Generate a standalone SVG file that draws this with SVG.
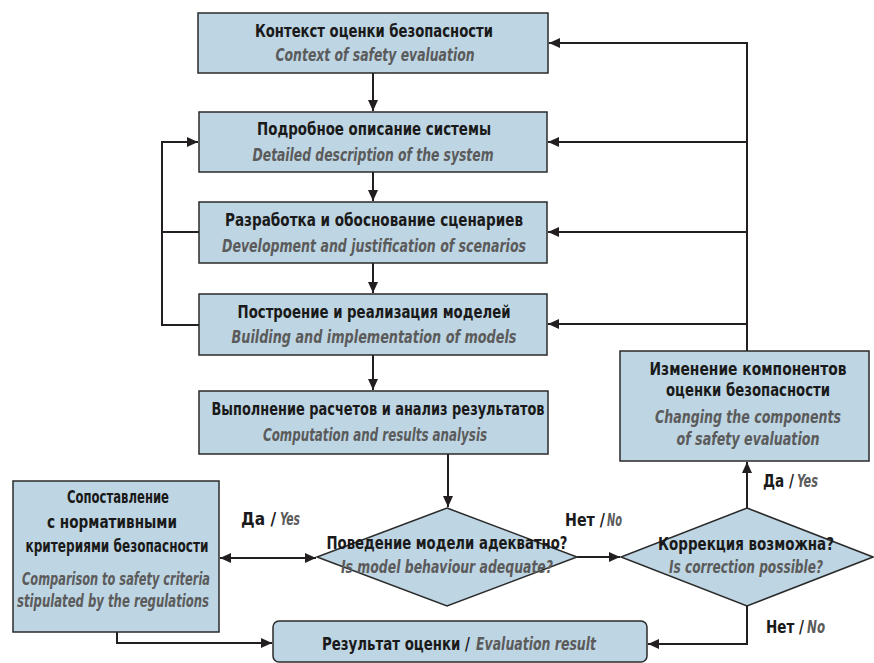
<svg xmlns="http://www.w3.org/2000/svg" width="874" height="663" viewBox="0 0 874 663">
<style>
.box{fill:#bed5e3;stroke:#2a2a2a;stroke-width:1.5}
.ru{font-family:"Liberation Sans Narrow","DejaVu Sans Condensed","Liberation Sans",sans-serif;font-weight:bold;font-size:17px;fill:#1a1a1a;text-anchor:middle}
.en{font-family:"Liberation Sans Narrow","DejaVu Sans Condensed","Liberation Sans",sans-serif;font-weight:bold;font-style:italic;font-size:17px;fill:#5b5b5b;text-anchor:middle}
.lb{font-family:"Liberation Sans Narrow","DejaVu Sans Condensed","Liberation Sans",sans-serif;font-weight:bold;font-size:17px;fill:#1a1a1a}
.lbi{font-family:"Liberation Sans Narrow","DejaVu Sans Condensed","Liberation Sans",sans-serif;font-weight:bold;font-size:17px;font-style:italic;fill:#5b5b5b}
.c{fill:none;stroke:#231f20;stroke-width:2}
</style>
<defs>
<marker id="ah" markerUnits="userSpaceOnUse" markerWidth="12" markerHeight="10" refX="11" refY="5" orient="auto">
<path d="M0,0 L11,5 L0,10 z" fill="#231f20"/>
</marker>
<marker id="ahs" markerUnits="userSpaceOnUse" markerWidth="12" markerHeight="10" refX="0" refY="5" orient="auto">
<path d="M11,0 L0,5 L11,10 z" fill="#231f20"/>
</marker>
</defs>
<g id="connectors">
<path class="c" d="M373,73 V111" marker-end="url(#ah)"/>
<path class="c" d="M373,172 V201" marker-end="url(#ah)"/>
<path class="c" d="M373,263 V293" marker-end="url(#ah)"/>
<path class="c" d="M373,355 V390" marker-end="url(#ah)"/>
<path class="c" d="M448,454 V507" marker-end="url(#ah)"/>
<path class="c" d="M199,232 H162 V142 H198" marker-end="url(#ah)"/>
<path class="c" d="M199,325 H162 V232"/>
<path class="c" d="M747,351 V43 H549" marker-end="url(#ah)"/>
<path class="c" d="M747,142 H548" marker-end="url(#ah)"/>
<path class="c" d="M747,232 H548" marker-end="url(#ah)"/>
<path class="c" d="M747,324 H548" marker-end="url(#ah)"/>
<path class="c" d="M747,508 V462" marker-end="url(#ah)"/>
<path class="c" d="M577,557 H620" marker-end="url(#ah)"/>
<path class="c" d="M747,606 V644 H648" marker-end="url(#ah)"/>
<path class="c" d="M220,558 H316" marker-start="url(#ahs)" marker-end="url(#ah)"/>
<path class="c" d="M117,632 V643 H272" marker-end="url(#ah)"/>
</g>
<g id="n1">
<rect class="box" x="198" y="13" width="350" height="60"/>
<text class="ru" x="374" y="37" textLength="238" lengthAdjust="spacingAndGlyphs">Контекст оценки безопасности</text>
<text class="en" x="375" y="61" textLength="199" lengthAdjust="spacingAndGlyphs">Context of safety evaluation</text>
</g>
<g id="n2">
<rect class="box" x="199" y="112" width="348" height="60"/>
<text class="ru" x="374" y="135" textLength="234" lengthAdjust="spacingAndGlyphs">Подробное описание системы</text>
<text class="en" x="373" y="161" textLength="241" lengthAdjust="spacingAndGlyphs">Detailed description of the system</text>
</g>
<g id="n3">
<rect class="box" x="199" y="202" width="348" height="61"/>
<text class="ru" x="374" y="226" textLength="298" lengthAdjust="spacingAndGlyphs">Разработка и обоснование  сценариев</text>
<text class="en" x="374" y="252" textLength="304" lengthAdjust="spacingAndGlyphs">Development and justification of scenarios</text>
</g>
<g id="n4">
<rect class="box" x="199" y="294" width="348" height="61"/>
<text class="ru" x="374" y="318" textLength="273" lengthAdjust="spacingAndGlyphs">Построение и реализация моделей</text>
<text class="en" x="374" y="343" textLength="285" lengthAdjust="spacingAndGlyphs">Building and implementation of models</text>
</g>
<g id="n5">
<rect class="box" x="199" y="391" width="349" height="63"/>
<text class="ru" x="378" y="415" textLength="333" lengthAdjust="spacingAndGlyphs">Выполнение расчетов и анализ результатов</text>
<text class="en" x="375" y="441" textLength="224" lengthAdjust="spacingAndGlyphs">Computation and results analysis</text>
</g>
<g id="n6">
<rect class="box" x="620" y="351" width="249" height="110"/>
<text class="ru" x="748" y="375" textLength="197" lengthAdjust="spacingAndGlyphs">Изменение компонентов</text>
<text class="ru" x="748" y="396" textLength="164" lengthAdjust="spacingAndGlyphs">оценки безопасности</text>
<text class="en" x="748" y="423" font-size="16" textLength="186" lengthAdjust="spacingAndGlyphs">Changing the components</text>
<text class="en" x="748" y="445" font-size="16" textLength="143" lengthAdjust="spacingAndGlyphs">of safety evaluation</text>
</g>
<g id="n7">
<rect class="box" x="13" y="481" width="206" height="151"/>
<text class="ru" x="118" y="503" textLength="102" lengthAdjust="spacingAndGlyphs">Сопоставление</text>
<text class="ru" x="112" y="528" textLength="130" lengthAdjust="spacingAndGlyphs">с нормативными</text>
<text class="ru" x="117" y="552" textLength="183" lengthAdjust="spacingAndGlyphs">критериями безопасности</text>
<text class="en" x="116" y="585" textLength="188" lengthAdjust="spacingAndGlyphs">Comparison to safety criteria</text>
<text class="en" x="113" y="607" textLength="192" lengthAdjust="spacingAndGlyphs">stipulated by the regulations</text>
</g>
<g id="n8">
<polygon class="box" points="447,508 577,557 447,606 317,557"/>
<text class="ru" x="447" y="549" textLength="241" lengthAdjust="spacingAndGlyphs">Поведение модели адекватно?</text>
<text class="en" x="447" y="573" textLength="212" lengthAdjust="spacingAndGlyphs">Is model behaviour adequate?</text>
</g>
<g id="n9">
<polygon class="box" points="747,508 873,557 747,606 621,557"/>
<text class="ru" x="746" y="550" textLength="176" lengthAdjust="spacingAndGlyphs">Коррекция возможна?</text>
<text class="en" x="746" y="573" textLength="154" lengthAdjust="spacingAndGlyphs">Is correction possible?</text>
</g>
<g id="n10">
<rect class="box" x="273" y="621" width="374" height="41" rx="6"/>
<text class="lb" x="322" y="650" font-size="15" textLength="148" lengthAdjust="spacingAndGlyphs">Результат оценки /</text>
<text class="lbi" x="476" y="650" font-size="15" textLength="120" lengthAdjust="spacingAndGlyphs">Evaluation result</text>
</g>
<g id="labels">
<text class="lb" x="241" y="525" textLength="35" lengthAdjust="spacingAndGlyphs">Да /</text>
<text class="lbi" x="280" y="525" textLength="20" lengthAdjust="spacingAndGlyphs">Yes</text>
<text class="lb" x="565" y="526" textLength="40" lengthAdjust="spacingAndGlyphs">Нет /</text>
<text class="lbi" x="607" y="526" textLength="15" lengthAdjust="spacingAndGlyphs">No</text>
<text class="lb" x="763" y="487" textLength="31" lengthAdjust="spacingAndGlyphs">Да /</text>
<text class="lbi" x="797" y="487" textLength="21" lengthAdjust="spacingAndGlyphs">Yes</text>
<text class="lb" x="766" y="633" textLength="38" lengthAdjust="spacingAndGlyphs">Нет /</text>
<text class="lbi" x="807" y="633" textLength="18" lengthAdjust="spacingAndGlyphs">No</text>
</g>
</svg>
